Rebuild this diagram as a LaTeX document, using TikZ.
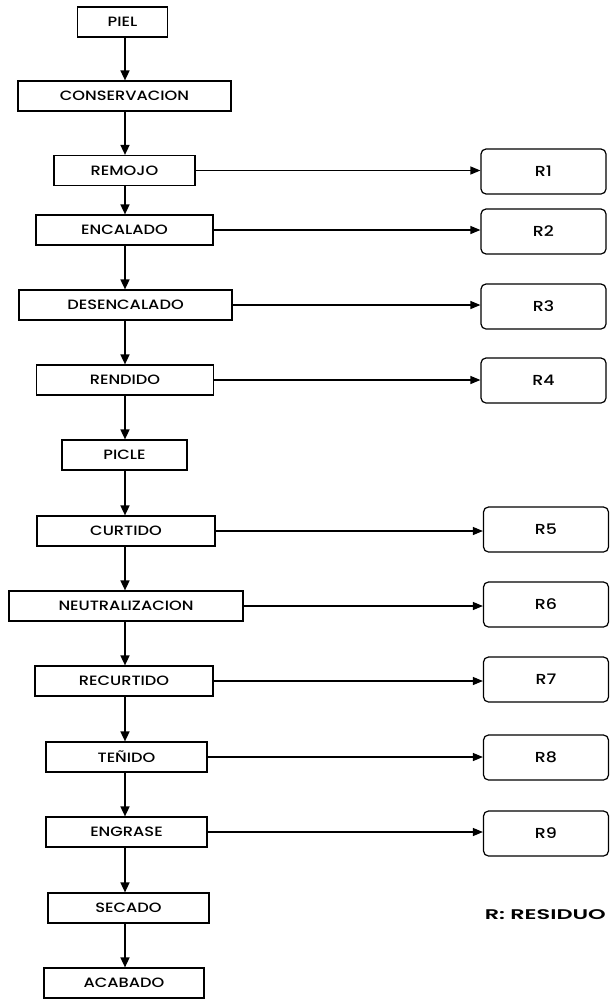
\documentclass[tikz,border=0pt]{standalone}
\usepackage{fontspec}
\setmainfont{Poppins}[FakeStretch=1.2, BoldFont=Poppins Medium, BoldFeatures={FakeStretch=1.2}]
\newfontfamily\legfont{Poppins SemiBold}[FakeStretch=1.6]
\usetikzlibrary{arrows.meta}
\begin{document}
\begin{tikzpicture}[x=1pt,y=-1pt,
  proc/.style={draw, line width=1.2pt, inner sep=0pt, minimum height=30pt,
    font=\fontsize{13.5}{15}\selectfont\bfseries},
  res/.style={draw, line width=1.2pt, rounded corners=5pt, inner sep=0pt,
    minimum width=125pt, minimum height=45pt, font=\fontsize{14.5}{16}\selectfont\bfseries},
  varr/.style={line width=1.6pt, -{Triangle[length=10pt,width=9pt]}},
  harr/.style={line width=1.2pt, -{Triangle[length=10pt,width=8pt]}}]
\useasboundingbox (0,0) rectangle (610,999);
\coordinate (spine) at (125,0);
% process boxes
\node[proc, minimum width=90pt]  (piel) at (122.5,22) {PIEL};
\node[proc, minimum width=213pt] (cons) at (124.5,96) {CONSERVACION};
\node[proc, minimum width=141pt] (remo) at (124.5,170.5) {REMOJO};
\node[proc, minimum width=177pt] (enca) at (124.5,230) {ENCALADO};
\node[proc, minimum width=213pt] (dese) at (125.5,305) {DESENCALADO};
\node[proc, minimum width=177pt] (rend) at (125,380) {RENDIDO};
\node[proc, minimum width=125pt] (picl) at (124.5,455) {PICLE};
\node[proc, minimum width=178pt] (curt) at (126,531) {CURTIDO};
\node[proc, minimum width=234pt] (neut) at (126,606) {NEUTRALIZACION};
\node[proc, minimum width=178pt] (recu) at (124,681) {RECURTIDO};
\node[proc, minimum width=161pt] (teni) at (126.5,757) {TEÑIDO};
\node[proc, minimum width=161pt] (engr) at (126.5,832) {ENGRASE};
\node[proc, minimum width=161pt] (seca) at (128.5,908) {SECADO};
\node[proc, minimum width=160pt] (acab) at (124,983) {ACABADO};
% residue boxes
\node[res] (r1) at (543.5,171.5) {R1};
\node[res] (r2) at (543.5,231.5) {R2};
\node[res] (r3) at (543.5,306.5) {R3};
\node[res] (r4) at (543.5,380.5) {R4};
\node[res] (r5) at (546,529.5) {R5};
\node[res] (r6) at (546,604.5) {R6};
\node[res] (r7) at (546,679.5) {R7};
\node[res] (r8) at (546,757.5) {R8};
\node[res] (r9) at (546,833.5) {R9};
\node[font=\fontsize{14}{16}\selectfont\legfont, anchor=east, inner sep=0pt] (leg) at (606,915) {R: RESIDUO};
% vertical flow
\foreach \a/\b in {piel/cons,cons/remo,remo/enca,enca/dese,dese/rend,rend/picl,
  picl/curt,curt/neut,neut/recu,recu/teni,teni/engr,engr/seca,seca/acab}
  \draw[varr] (\a.south -| spine) -- (\b.north -| spine);
% horizontal flow
\foreach \a/\b in {remo/r1,enca/r2,dese/r3,rend/r4,curt/r5,neut/r6,recu/r7,teni/r8,engr/r9}
  \draw[harr] (\a.east) -- (\a.east -| \b.west);
\end{tikzpicture}
\end{document}
